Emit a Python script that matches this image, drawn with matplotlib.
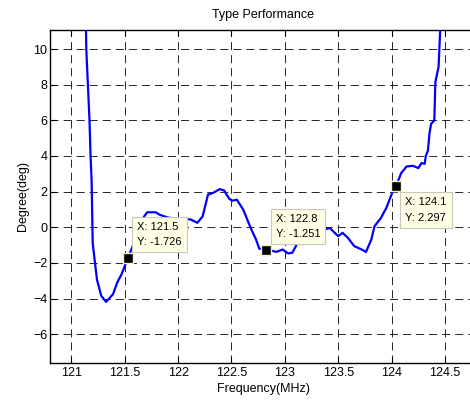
import matplotlib
matplotlib.use("Agg")
import matplotlib.pyplot as plt

plt.rcParams['font.family'] = ['Liberation Sans', 'DejaVu Sans']
plt.rcParams['lines.scale_dashes'] = False

freq = [121.13, 121.137, 121.14, 121.155, 121.17, 121.18, 121.19, 121.20, 121.24,
        121.28, 121.325, 121.39, 121.43, 121.47, 121.53, 121.575, 121.64, 121.71,
        121.79, 121.825, 121.9, 122.0, 122.075, 122.12, 122.18, 122.23, 122.28,
        122.325, 122.39, 122.43, 122.48, 122.51, 122.55, 122.61, 122.68, 122.73,
        122.76, 122.825, 122.92, 122.98, 123.03, 123.07, 123.12, 123.2, 123.3,
        123.37, 123.42, 123.50, 123.54, 123.59, 123.65, 123.72, 123.76, 123.81,
        123.84, 123.90, 123.95, 124.01, 124.04, 124.09, 124.14, 124.2, 124.25,
        124.28, 124.31, 124.32, 124.34, 124.355, 124.37, 124.40, 124.41, 124.44,
        124.455, 124.46]
phase = [12.0, 11.1, 10.0, 8.0, 6.0, 4.0, 2.6, -0.9, -2.94,
         -3.85, -4.19, -3.76, -3.1, -2.64, -1.726, -1.06, 0.25, 0.84,
         0.84, 0.71, 0.55, 0.45, 0.47, 0.43, 0.25, 0.61, 1.83,
         1.92, 2.14, 2.07, 1.59, 1.49, 1.55, 0.99, -0.04, -0.69,
         -1.2, -1.251, -1.38, -1.25, -1.47, -1.43, -0.87, -0.45, -0.2,
         -0.13, -0.04, -0.5, -0.31, -0.59, -1.06, -1.25, -1.39, -0.69,
         0.06, 0.52, 1.08, 2.0, 2.297, 3.04, 3.41, 3.45, 3.32,
         3.6, 3.56, 4.0, 4.3, 5.27, 5.8, 6.0, 8.15, 9.0,
         11.05, 12.0]

marker_x = [121.5, 122.8, 124.1]
marker_y = [-1.726, -1.251, 2.297]
marker_plot_x = [121.53, 122.825, 124.04]

xticks = [121, 121.5, 122, 122.5, 123, 123.5, 124, 124.5]
xticklabels = ['121', '121.5', '122', '122.5', '123', '123.5', '124', '124.5']
yticks = [-6, -4, -2, 0, 2, 4, 6, 8, 10]

fig = plt.figure(figsize=(4.7, 4.0), dpi=100)
ax = fig.add_axes([50/470, 37/400, 427/470, 333.5/400])
ax.plot(freq, phase, color='#0000FF', lw=1.6, zorder=3)
ax.set_xlim(120.8, 124.8)
ax.set_ylim(-7.62, 11.1)
ax.set_xticks(xticks)
ax.set_xticklabels(xticklabels)
ax.set_yticks(yticks)
ax.tick_params(direction='in', length=4, width=0.8, top=True, right=True,
               labelsize=9, colors='black')
ax.tick_params(axis='x', pad=3)
ax.tick_params(axis='y', pad=2)
ax.grid(True, color='black', lw=0.7, linestyle=(0, (5.8, 3.6)), alpha=0.85)
for s in ax.spines.values():
    s.set_color('black')
    s.set_linewidth(1.0)

offsets = [(9.5, 11), (9.5, 10.5), (9.5, -11)]
vas = ['bottom', 'bottom', 'top']
for mx, my, px, off, va in zip(marker_x, marker_y, marker_plot_x, offsets, vas):
    ax.plot([px], [my], marker='s', ms=7, mfc='black', mec='#F5F0C8', mew=1.0,
            zorder=5, clip_on=False)
    ax.annotate('X: %s\nY: %s' % (mx, my), xy=(px, my), xytext=off,
                textcoords='offset pixels', ha='left', va=va, fontsize=8,
                linespacing=1.65,
                bbox=dict(boxstyle='square,pad=0.45', fc='#FFFFE6', ec='#C8C8C0', lw=0.8),
                zorder=6)

ax.set_title('Type Performance', fontsize=9, pad=8)
ax.set_xlabel('Frequency(MHz)', fontsize=9, labelpad=3)
ax.set_ylabel('Degree(deg)', fontsize=9, labelpad=3)

fig.savefig('out.png', dpi=100)
